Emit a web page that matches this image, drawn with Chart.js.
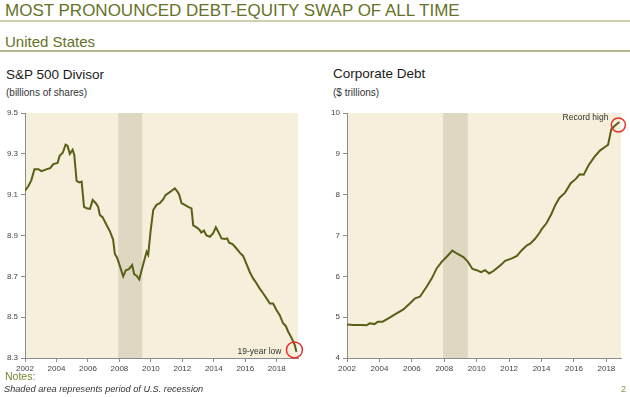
<!DOCTYPE html>
<html>
<head>
<meta charset="utf-8">
<script src="https://cdn.jsdelivr.net/npm/chart.js@4"></script>
<style>
    body { margin: 0; width: 630px; height: 397px; background: #fff; position: relative; overflow: hidden;
           font-family: "Liberation Sans", Arial, sans-serif; }
    .txt { position: absolute; white-space: nowrap; line-height: 1; }
    .rule { position: absolute; left: 0; width: 630px; }
    canvas { position: absolute; }
</style>
</head>
<body>
<div class="txt" style="left:5px; top:2px; font-size:17px; color:#667226;">MOST PRONOUNCED DEBT-EQUITY SWAP OF ALL TIME</div>
<div class="rule" style="top:20px; height:2px; background:#cfcfae;"></div>
<div class="txt" style="left:5px; top:34px; font-size:15px; color:#667226;">United States</div>
<div class="rule" style="top:50px; height:2px; background:#b8b890;"></div>

<div class="txt" style="left:6px; top:68px; font-size:13.5px; color:#1a1a1a;">S&amp;P 500 Divisor</div>
<div class="txt" style="left:6px; top:88px; font-size:10px; color:#333;">(billions of shares)</div>
<div class="txt" style="left:333px; top:67px; font-size:13.5px; color:#1a1a1a;">Corporate Debt</div>
<div class="txt" style="left:333px; top:88px; font-size:10px; color:#333;">($ trillions)</div>

<canvas id="divisorChart" width="315" height="280" style="left:0; top:100px;"></canvas>
<canvas id="debtChart" width="315" height="280" style="left:315px; top:100px;"></canvas>

<div class="txt" style="left:5px; top:371px; font-size:10.5px; color:#7a8430;">Notes:</div>
<div class="txt" style="left:4px; top:384.5px; font-size:9.2px; font-style:italic; color:#333;">Shaded area represents period of U.S. recession</div>
<div class="txt" style="left:621px; top:385px; font-size:9px; color:#8a9040;">2</div>

<script>
// S&P 500 divisor, billions of shares (x = year)
const divisorYears = [2002.0, 2002.2, 2002.4, 2002.6, 2002.85, 2003.05, 2003.4, 2003.6, 2003.8, 2004.07,
    2004.2, 2004.4, 2004.58, 2004.7, 2004.85, 2005.03, 2005.13, 2005.28, 2005.45, 2005.6,
    2005.75, 2005.92, 2006.13, 2006.3, 2006.5, 2006.65, 2006.76, 2006.93, 2007.19, 2007.4,
    2007.6, 2007.71, 2007.86, 2008.03, 2008.24, 2008.41, 2008.6, 2008.81, 2008.94, 2009.09,
    2009.26, 2009.41, 2009.62, 2009.73, 2009.83, 2009.98, 2010.15, 2010.36, 2010.57, 2010.78,
    2010.93, 2011.16, 2011.3, 2011.52, 2011.69, 2011.8, 2011.95, 2012.16, 2012.37, 2012.58,
    2012.69, 2012.9, 2013.1, 2013.2, 2013.37, 2013.53, 2013.75, 2013.95, 2014.13, 2014.27,
    2014.49, 2014.7, 2014.85, 2014.97, 2015.19, 2015.4, 2015.65, 2015.86, 2016.08, 2016.29,
    2016.5, 2016.71, 2016.92, 2017.13, 2017.35, 2017.56, 2017.77, 2017.98, 2018.19, 2018.4,
    2018.57, 2018.72, 2018.93, 2019.14, 2019.25];
const divisorValues = [9.12, 9.14, 9.17, 9.225, 9.225, 9.215, 9.225, 9.23, 9.25, 9.255,
    9.29, 9.305, 9.345, 9.34, 9.30, 9.32, 9.295, 9.167, 9.16, 9.164,
    9.04, 9.033, 9.03, 9.074, 9.058, 9.04, 9.0, 8.99, 8.95, 8.92,
    8.88, 8.81, 8.79, 8.75, 8.70, 8.73, 8.735, 8.755, 8.71, 8.703,
    8.685, 8.73, 8.79, 8.82, 8.805, 8.92, 9.025, 9.05, 9.058, 9.077,
    9.098, 9.11, 9.118, 9.131, 9.115, 9.1, 9.058, 9.05, 9.04, 9.033,
    8.95, 8.94, 8.927, 8.914, 8.924, 8.90, 8.894, 8.91, 8.94, 8.92,
    8.886, 8.883, 8.886, 8.865, 8.858, 8.84, 8.816, 8.80, 8.76, 8.72,
    8.69, 8.666, 8.64, 8.617, 8.592, 8.567, 8.567, 8.535, 8.51, 8.47,
    8.457, 8.43, 8.40, 8.365, 8.33];

// Corporate debt, $ trillions
const debtYears = [2002.0, 2002.4, 2002.9, 2003.2, 2003.4, 2003.7, 2003.9, 2004.2, 2004.55, 2004.96,
    2005.48, 2005.89, 2006.2, 2006.5, 2006.92, 2007.23, 2007.54, 2007.85, 2008.15, 2008.5,
    2008.77, 2009.18, 2009.45, 2009.74, 2010.0, 2010.27, 2010.52, 2010.77, 2011.03, 2011.24,
    2011.55, 2011.75, 2012.17, 2012.48, 2012.78, 2013.1, 2013.3, 2013.6, 2013.9, 2014.0,
    2014.3, 2014.6, 2014.85, 2015.1, 2015.45, 2015.8, 2016.1, 2016.35, 2016.6, 2016.9,
    2017.25, 2017.6, 2017.95, 2018.1, 2018.3, 2018.5, 2018.8];
const debtValues = [4.82, 4.81, 4.81, 4.80, 4.85, 4.83, 4.89, 4.89, 4.97, 5.07,
    5.19, 5.34, 5.46, 5.50, 5.75, 5.95, 6.20, 6.36, 6.48, 6.63,
    6.56, 6.47, 6.36, 6.18, 6.15, 6.10, 6.15, 6.07, 6.13, 6.20,
    6.30, 6.38, 6.44, 6.50, 6.64, 6.76, 6.80, 6.92, 7.08, 7.15,
    7.30, 7.52, 7.75, 7.92, 8.05, 8.28, 8.38, 8.50, 8.49, 8.72,
    8.92, 9.08, 9.18, 9.22, 9.60, 9.68, 9.78];

const yearTicks = [2002, 2004, 2006, 2008, 2010, 2012, 2014, 2016, 2018];
const divisorTicks = [8.3, 8.5, 8.7, 8.9, 9.1, 9.3, 9.5];
const debtTicks = [4, 5, 6, 7, 8, 9, 10];
const recession = [2007.92, 2009.45];

const lineColor = "#5b5e17";
const axisColor = "#8c8c8c";
const tickFont = { family: "'Liberation Sans', Arial, sans-serif", size: 8 };

const backdrop = {
    id: "backdrop",
    beforeDraw(chart) {
        const { ctx, chartArea: a, scales: { x } } = chart;
        ctx.save();
        ctx.fillStyle = "#f5efdc";
        ctx.fillRect(a.left, a.top, a.right - a.left, a.bottom - a.top);
        const r0 = x.getPixelForValue(recession[0]);
        const r1 = x.getPixelForValue(recession[1]);
        ctx.fillStyle = "#ded8c2";
        ctx.fillRect(r0, a.top, r1 - r0, a.bottom - a.top);
        ctx.restore();
    }
};

const callout = {
    id: "callout",
    afterDatasetsDraw(chart, args, opts) {
        const { ctx } = chart;
        const pts = chart.getDatasetMeta(0).data;
        const p = pts[pts.length - 1];
        ctx.save();
        ctx.strokeStyle = "#e8302a";
        ctx.lineWidth = 1.5;
        ctx.beginPath();
        ctx.arc(p.x + opts.dx, p.y + opts.dy, opts.r, 0, Math.PI * 2);
        ctx.stroke();
        ctx.fillStyle = "#333";
        ctx.font = "8.5px 'Liberation Sans', Arial, sans-serif";
        ctx.textAlign = "right";
        ctx.textBaseline = "middle";
        ctx.fillText(opts.text, p.x + opts.tx, p.y + opts.ty);
        ctx.restore();
    }
};

function makeChart(id, years, values, yTicks, yMin, yMax, xMax, yWidth, padRight, note) {
    return new Chart(document.getElementById(id), {
        type: "line",
        data: {
            datasets: [{
                data: years.map((yr, i) => ({ x: yr, y: values[i] })),
                borderColor: lineColor,
                borderWidth: 2,
                pointRadius: 0,
                tension: 0,
                fill: false
            }]
        },
        options: {
            responsive: false,
            animation: false,
            devicePixelRatio: 1,
            layout: { padding: { left: 0, right: padRight, top: 13, bottom: 0 } },
            plugins: { legend: { display: false }, tooltip: { enabled: false }, callout: note },
            scales: {
                x: {
                    type: "linear",
                    min: 2002,
                    max: xMax,
                    afterBuildTicks: s => { s.ticks = yearTicks.map(v => ({ value: v })); },
                    afterFit: s => { s.height = 22; },
                    grid: { drawOnChartArea: false, tickLength: 4, color: axisColor },
                    border: { color: axisColor },
                    ticks: { color: "#444", font: tickFont, padding: 2, maxRotation: 0,
                             callback: v => String(v) }
                },
                y: {
                    min: yMin,
                    max: yMax,
                    afterBuildTicks: s => { s.ticks = yTicks.map(v => ({ value: v })); },
                    afterFit: s => { s.width = yWidth; },
                    grid: { drawOnChartArea: false, tickLength: 4, color: axisColor },
                    border: { color: axisColor },
                    ticks: { color: "#444", font: tickFont, padding: 3,
                             callback: v => (yMax < 10 ? v.toFixed(1) : String(v)) }
                }
            }
        },
        plugins: [backdrop, callout]
    });
}

makeChart("divisorChart", divisorYears, divisorValues, divisorTicks, 8.3, 9.5, 2019.35, 25, 17,
    { text: "19-year low", r: 8, dx: -2, dy: -2, tx: -15, ty: 0 });
makeChart("debtChart", debtYears, debtValues, debtTicks, 4, 10, 2018.9, 32, 9,
    { text: "Record high", r: 7, dx: -1, dy: 3, tx: -11, ty: -4 });
</script>
</body>
</html>
